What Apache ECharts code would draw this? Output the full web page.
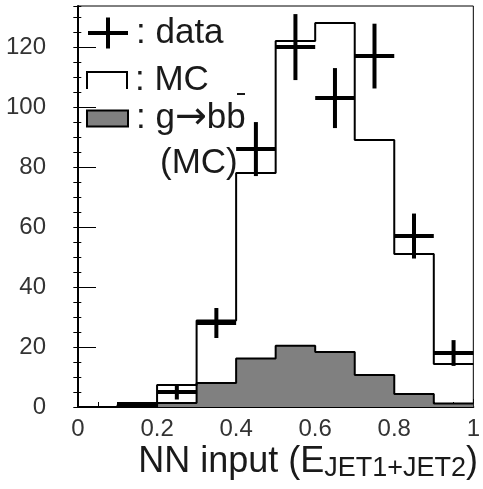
<!DOCTYPE html>
<html>
<head>
<meta charset="utf-8">
<script src="https://cdn.jsdelivr.net/npm/echarts@6/dist/echarts.min.js"></script>
<style>
html,body{margin:0;padding:0;background:#fff;}
#chart{width:483px;height:489px;}
</style>
</head>
<body>
<div id="chart"></div>
<script>
// Histogram bin low edges (bin width 0.1)
var binEdges = [0, 0.1, 0.2, 0.3, 0.4, 0.5, 0.6, 0.7, 0.8, 0.9];
var binWidth = 0.1;
// MC histogram contents
var mcValues = [0, 0.7, 7.3, 28.8, 78, 122, 128, 89, 51, 14.3];
// g->bb (MC) histogram contents
var gbbValues = [0, 0, 1.3, 8, 16.2, 20.4, 18.3, 10.7, 4.3, 1.2];
// data points (bin centres), values and errors
var dataX = [0.15, 0.25, 0.35, 0.45, 0.55, 0.65, 0.75, 0.85, 0.95];
var dataY = [1, 5, 28, 86, 120, 103, 117, 57, 18];
var dataErr = [0.5, 2.5, 5, 9, 11, 10, 10.8, 7.5, 4.3];
// axis
var xTickLabels = ['0', '0.2', '0.4', '0.6', '0.8', '1'];
var yTickLabels = [0, 20, 40, 60, 80, 100, 120];

function histSeries(vals) {
  var pts = binEdges.map(function (x, i) { return [x, vals[i]]; });
  pts.push([binEdges[binEdges.length - 1] + binWidth, vals[vals.length - 1]]);
  return pts;
}

var FONT = 'Liberation Sans, Arial, sans-serif';
var TXT = '#1a1a1a';
var chart = echarts.init(document.getElementById('chart'), null, {renderer: 'canvas'});

function legendText() {
  return {
    fontFamily: FONT, fontSize: 35, fontWeight: 'normal', color: TXT, padding: [0, 0, 0, 3],
    rich: {ar: {fontFamily: 'DejaVu Sans', fontSize: 38, color: TXT}}
  };
}

var option = {
  animation: false,
  backgroundColor: '#fff',
  title: {
    text: '{a|NN input (E}{b|JET1+JET2}{a|)}',
    right: 5,
    top: 442,
    padding: 0,
    textStyle: {
      fontWeight: 'normal',
      rich: {
        a: {fontFamily: FONT, fontSize: 36, fontWeight: 'normal', color: TXT, lineHeight: 40},
        b: {fontFamily: FONT, fontSize: 27, fontWeight: 'normal', color: TXT, lineHeight: 22, verticalAlign: 'bottom'}
      }
    }
  },
  grid: {
    left: 78, right: 5, top: 6, bottom: 82,
    show: true, borderColor: '#000', borderWidth: 1, backgroundColor: 'transparent'
  },
  legend: [
    {
      data: [{name: 'data', icon: 'path://M0,15.5L40,15.5M20,0L20,31'}],
      left: 86, top: 15.5, padding: 0, itemWidth: 40, itemHeight: 31,
      selectedMode: false,
      itemStyle: {color: 'rgba(0,0,0,0)', borderColor: '#000', borderWidth: 4},
      formatter: function (n) { return ': ' + n; },
      textStyle: legendText()
    },
    {
      data: [{name: 'MC', icon: 'path://M0,17L0,0L40,0L40,17'}],
      left: 86, top: 63, padding: 0, itemWidth: 40, itemHeight: 17,
      selectedMode: false,
      itemStyle: {color: 'rgba(0,0,0,0)', borderColor: '#000', borderWidth: 2},
      formatter: function (n) { return ': ' + n; },
      textStyle: legendText()
    },
    {
      data: [{name: 'g→bb', icon: 'rect'}],
      left: 86, top: 99.5, padding: 0, itemWidth: 41, itemHeight: 16,
      selectedMode: false,
      itemStyle: {color: '#808080', borderColor: '#000', borderWidth: 2},
      formatter: function (n) { return ': ' + n.replace('→', '{ar|→}'); },
      textStyle: legendText()
    }
  ],
  graphic: [
    {type: 'text', left: 160, top: 146, style: {text: '(MC)', font: '35px ' + FONT, fill: TXT}},
    {type: 'rect', left: 237, top: 93, shape: {width: 8, height: 2}, style: {fill: TXT}}
  ],
  xAxis: {
    type: 'value', min: 0, max: 1, interval: 0.2,
    axisLine: {show: true, onZero: false, lineStyle: {color: '#000', width: 2}},
    axisTick: {show: true, inside: true, length: 8, lineStyle: {color: '#000', width: 1}},
    minorTick: {show: true, splitNumber: 4, length: 5, lineStyle: {color: '#000', width: 1}},
    splitLine: {show: false},
    axisLabel: {
      fontFamily: FONT, fontSize: 24, color: '#333', margin: 10,
      formatter: function (v) { var i = Math.round(v / 0.2); return xTickLabels[i] !== undefined ? xTickLabels[i] : ''; }
    }
  },
  yAxis: [
    {
      type: 'value', min: 0, max: 133.7, interval: 20,
      axisLine: {show: true, lineStyle: {color: '#000', width: 2}},
      axisTick: {show: true, inside: true, length: 18, lineStyle: {color: '#000', width: 1}},
      splitLine: {show: false},
      axisLabel: {
        fontFamily: FONT, fontSize: 24, color: '#333', margin: 32, showMaxLabel: false,
        formatter: function (v) { return yTickLabels.indexOf(Math.round(v)) >= 0 && Math.abs(v - Math.round(v)) < 1e-6 ? String(Math.round(v)) : ''; }
      }
    },
    {
      type: 'value', min: 0, max: 133.7, interval: 5, position: 'right', offset: -400,
      axisLine: {show: false},
      axisTick: {show: true, inside: false, length: 8, lineStyle: {color: '#000', width: 1}},
      splitLine: {show: false},
      axisLabel: {show: false}
    }
  ],
  series: [
    {
      name: 'g→bb', type: 'line', step: 'end', symbol: 'none', showSymbol: false,
      data: histSeries(gbbValues),
      lineStyle: {color: '#000', width: 2},
      itemStyle: {color: '#808080'},
      areaStyle: {color: '#808080', opacity: 1},
      z: 2
    },
    {
      name: 'MC', type: 'line', step: 'end', symbol: 'none', showSymbol: false,
      data: histSeries(mcValues),
      lineStyle: {color: '#000', width: 2},
      itemStyle: {color: '#000'},
      z: 3
    },
    {
      name: 'data', type: 'custom',
      data: dataX.map(function (x, i) { return [x, dataY[i], dataErr[i]]; }),
      encode: {x: 0, y: 1},
      z: 4,
      renderItem: function (params, api) {
        var x = api.value(0), y = api.value(1), e = api.value(2);
        var l = api.coord([x - binWidth / 2, y]);
        var r = api.coord([x + binWidth / 2, y]);
        var t = api.coord([x, y + e]);
        var b = api.coord([x, y - e]);
        return {
          type: 'group',
          children: [
            {type: 'line', shape: {x1: l[0], y1: l[1], x2: r[0], y2: r[1]}, style: {stroke: '#000', lineWidth: 4}},
            {type: 'line', shape: {x1: t[0], y1: t[1], x2: b[0], y2: b[1]}, style: {stroke: '#000', lineWidth: 4}}
          ]
        };
      }
    }
  ]
};
chart.setOption(option);
</script>
</body>
</html>
